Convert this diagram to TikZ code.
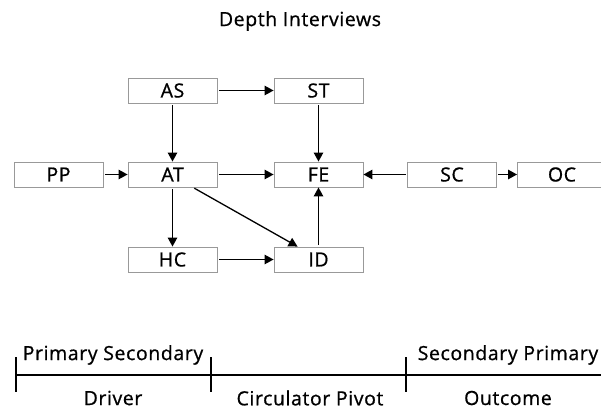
\documentclass[tikz,border=0pt]{standalone}
\usepackage{fontspec}
\setmainfont[LetterSpace=3,FakeBold=0.8]{Open Sans}
\usetikzlibrary{arrows.meta,calc}
\begin{document}
\begin{tikzpicture}[x=1pt,y=-1pt,
  box/.style={draw=black!40,line width=0.9pt,minimum width=89pt,minimum height=25pt,inner sep=0pt,font=\fontsize{19.5}{22}\selectfont},
  arr/.style={line width=1.3pt,-{Triangle[length=9pt,width=9.5pt]},shorten <=1.5pt},
  axis/.style={line width=1.3pt},
  lab/.style={font=\fontsize{19.5}{22}\selectfont,inner sep=0pt}]
\useasboundingbox (0,0) rectangle (601,411);
\node[lab] (title) at (300,21) {Depth Interviews};
\node[box] (AS) at (172.5,90.5) {AS};
\node[box] (ST) at (318.5,90.5) {ST};
\node[box] (PP) at (58.5,174.5) {PP};
\node[box] (AT) at (172.5,174.5) {AT};
\node[box] (FE) at (318.5,174.5) {FE};
\node[box] (SC) at (452,174.5) {SC};
\node[box] (OC) at (562,174.5) {OC};
\node[box] (HC) at (172.5,259.5) {HC};
\node[box] (ID) at (318.5,259.5) {ID};
\draw[arr] (AS) -- (ST);
\draw[arr] (AS) -- (AT);
\draw[arr] (PP) -- (AT);
\draw[arr] (AT) -- (FE);
\draw[arr] (AT) -- (HC);
\draw[arr] (HC) -- (ID);
\draw[arr] ($(AT.south)+(20.5,0)$) -- ($(ID.north west)+(24,0)$);
\draw[arr] (ST) -- (FE);
\draw[arr] (ID) -- (FE);
\draw[arr] (SC) -- (FE);
\draw[arr] (SC) -- (OC);
\coordinate (a0) at (16,375);
\coordinate (a1) at (211,375);
\coordinate (a2) at (406,375);
\coordinate (a3) at (601,375);
\draw[axis] (a0) -- (a3);
\foreach \c in {a0,a1,a2} \draw[axis] ($(\c)+(0,-18)$) -- ($(\c)+(0,17)$);
\node[lab] (ps) at (113,355) {Primary Secondary};
\node[lab] (sp) at (508,355) {Secondary Primary};
\node[lab] (dr) at (113,398) {Driver};
\node[lab] (cp) at (310,398) {Circulator Pivot};
\node[lab] (oc) at (508,398) {Outcome};
\end{tikzpicture}
\end{document}
